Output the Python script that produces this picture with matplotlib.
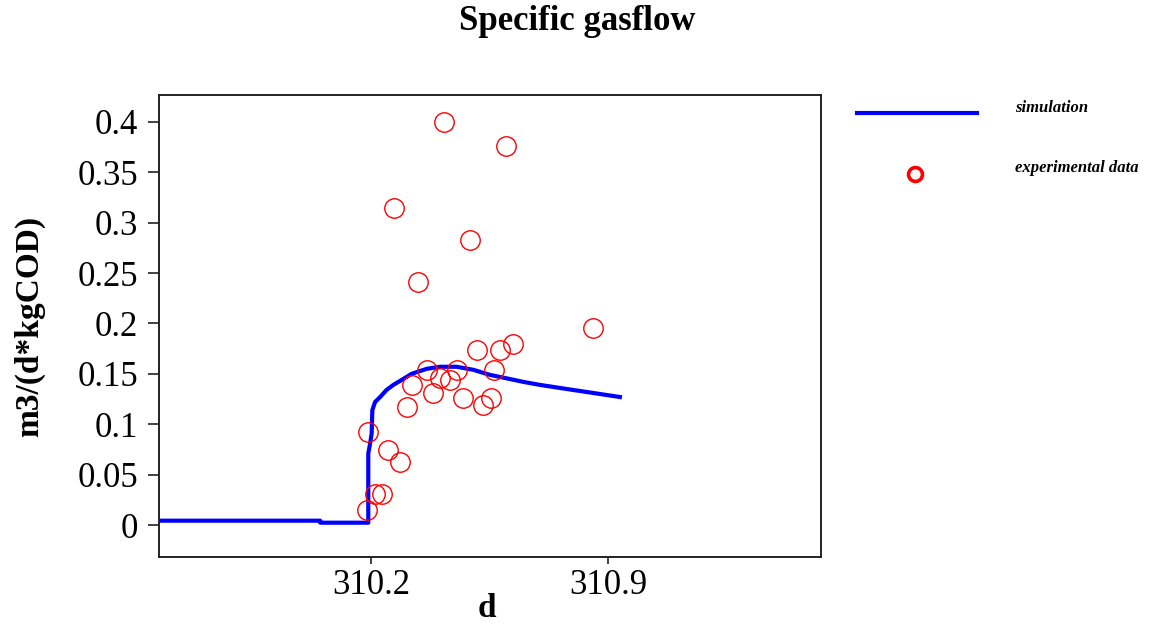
import matplotlib
matplotlib.use('Agg')
import matplotlib.pyplot as plt
from matplotlib.lines import Line2D

###############################################################################
''' Data read off the chart '''
sim_x = [309.50, 310.05, 310.05, 310.192, 310.192, 310.197, 310.202, 310.204,
         310.212, 310.227, 310.246, 310.266, 310.291, 310.320, 310.365, 310.404,
         310.453, 310.502, 310.551, 310.601, 310.650, 310.699, 310.797, 310.876,
         310.935]
sim_y = [0.0043, 0.0043, 0.0023, 0.0023, 0.071, 0.080, 0.091, 0.114,
         0.122, 0.127, 0.134, 0.139, 0.144, 0.150, 0.155, 0.157,
         0.157, 0.154, 0.149, 0.1455, 0.142, 0.139, 0.134, 0.130,
         0.127]

exp_x = [310.417, 310.599, 310.269, 310.492, 310.340, 310.855, 310.620, 310.581,
         310.512, 310.564, 310.364, 310.453, 310.404, 310.433, 310.320, 310.382,
         310.471, 310.554, 310.530, 310.305, 310.192, 310.251, 310.286, 310.212,
         310.233, 310.187]
exp_y = [0.400, 0.376, 0.315, 0.283, 0.241, 0.195, 0.180, 0.174,
         0.174, 0.154, 0.154, 0.154, 0.146, 0.144, 0.139, 0.131,
         0.126, 0.126, 0.119, 0.117, 0.092, 0.074, 0.063, 0.031,
         0.031, 0.015]

x_ticks = [310.2, 310.9]
y_ticks = [0, 0.05, 0.1, 0.15, 0.2, 0.25, 0.3, 0.35, 0.4]
y_tick_labels = ['0', '0.05', '0.1', '0.15', '0.2', '0.25', '0.3', '0.35', '0.4']

###############################################################################
''' Plot '''
plt.rcParams['font.family'] = ['Liberation Serif', 'DejaVu Serif']

fig = plt.figure(figsize=(11.71, 6.28), dpi=100)
ax = fig.add_axes([0.1358, 0.1131, 0.5653, 0.7356])

ax.plot(sim_x, sim_y, color='#0000ff', lw=3.0, zorder=2)
ax.plot(exp_x, exp_y, ls='none', marker='o', ms=14, mfc='none',
        mec='#ff0000', mew=1.0, zorder=3)

ax.set_xlim(309.574, 311.529)
ax.set_ylim(-0.0317, 0.4266)
ax.set_xticks(x_ticks)
ax.set_xticklabels(['310.2', '310.9'])
ax.set_yticks(y_ticks)
ax.set_yticklabels(y_tick_labels)
ax.tick_params(axis='both', direction='out', labelsize=25, width=1.2,
               color='#222222')
ax.tick_params(axis='y', length=8, pad=7)
ax.tick_params(axis='x', length=5, pad=4)
for sp in ax.spines.values():
    sp.set_linewidth(1.4)
    sp.set_color('#222222')

ax.set_ylabel('m3/(d*kgCOD)', fontsize=24, fontweight='bold')
ax.yaxis.set_label_coords(-0.172, 0.5)
ax.set_xlabel('d', fontsize=24, fontweight='bold')
ax.xaxis.set_label_coords(0.495, -0.077)

fig.text(0.493, 0.965, 'Specific gasflow', fontsize=25, fontweight='bold',
         ha='center', va='center')

# legend drawn by hand to the right of the axes
fig.add_artist(Line2D([0.732, 0.834], [0.820, 0.820], color='#0000ff',
                      lw=3.0, transform=fig.transFigure))
fig.add_artist(Line2D([0.7815], [0.723], marker='o', ms=10, mfc='none',
                      mec='#ff0000', mew=2.6, transform=fig.transFigure))
fig.text(0.867, 0.828, 'simulation', fontsize=12, style='italic',
         fontweight='bold', va='center')
fig.text(0.867, 0.732, 'experimental data', fontsize=12, style='italic',
         fontweight='bold', va='center')

fig.savefig('out.png', dpi=100)
